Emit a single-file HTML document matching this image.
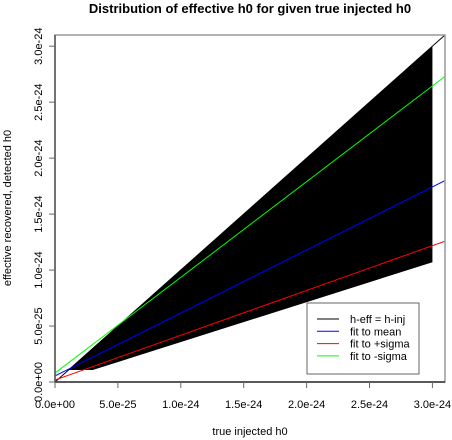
<!DOCTYPE html>
<html><head><meta charset="utf-8"><style>
body{margin:0;background:#fff;}
svg{display:block;font-family:"Liberation Sans",sans-serif;}
</style></head><body>
<svg id="c" width="452" height="440" viewBox="0 0 452 440">
<text x="250" y="13" text-anchor="middle" font-weight="bold" font-size="13">Distribution of effective h0 for given true injected h0</text>
<text x="250" y="435" text-anchor="middle" font-size="11">true injected h0</text>
<text transform="translate(11,208) rotate(-90)" text-anchor="middle" font-size="11">effective recovered, detected h0</text>
<g id="plot"></g>
</svg>
<script>
const xTicks=[0,0.5,1.0,1.5,2.0,2.5,3.0];
const xTickLabels=["0.0e+00","5.0e-25","1.0e-24","1.5e-24","2.0e-24","2.5e-24","3.0e-24"];
const yTicks=[0,0.5,1.0,1.5,2.0,2.5,3.0];
const yTickLabels=["0.0e+00","5.0e-25","1.0e-24","1.5e-24","2.0e-24","2.5e-24","3.0e-24"];
// band polygon (units 1e-24)
const bandX=[0.1,3.0,3.0,0.3,0.1];
const bandY=[0.1,3.0,1.07,0.107,0.107];
// fit lines: intercept, slope (units 1e-24)
const lineNames=["h-eff = h-inj","fit to mean","fit to +sigma","fit to -sigma"];
const lineIntercepts=[0,0.054,0.018,0.08];
const lineSlopes=[1,0.563,0.4,0.855];
const lineColors=["#000","#0000ff","#ff0000","#00ff00"];

const L=55,R=445,T=35,B=382,XMAX=3.1,YMAX=3.1;
const sx=v=>L+(v/XMAX)*(R-L);
const sy=v=>B-(v/YMAX)*(B-T);
const NS="http://www.w3.org/2000/svg";
const g=document.getElementById('plot');
function mk(t,a){const e=document.createElementNS(NS,t);for(const k in a)e.setAttribute(k,a[k]);g.appendChild(e);return e;}

const band=mk('polygon',{points:bandX.map((x,i)=>sx(x)+','+sy(bandY[i])).join(' '),fill:'#000'});



const cp=document.createElementNS(NS,'clipPath');cp.setAttribute('id','clip');
const cr=document.createElementNS(NS,'rect');cr.setAttribute('x',L);cr.setAttribute('y',T);cr.setAttribute('width',R-L);cr.setAttribute('height',B-T);
cp.appendChild(cr);g.appendChild(cp);
lineNames.forEach((n,i)=>{
  const x2=XMAX;
  const l=mk('line',{x1:sx(0),y1:sy(lineIntercepts[i]),x2:sx(x2),y2:sy(lineIntercepts[i]+lineSlopes[i]*x2),stroke:lineColors[i],'stroke-width':1,'clip-path':'url(#clip)'});
  
  
});

const box=mk('rect',{x:L,y:T,width:R-L,height:B-T,fill:'none',stroke:'#999','stroke-width':1.5});


const ax1=mk('line',{x1:L,x2:L,y1:T,y2:B,stroke:'#555','stroke-width':1.5});


const ax2=mk('line',{x1:L,x2:R,y1:B,y2:B,stroke:'#333','stroke-width':1.5});



xTicks.forEach((v,i)=>{
  const t=mk('line',{x1:sx(v),x2:sx(v),y1:B,y2:B+6,stroke:'#666'});
  
  
  const tx=mk('text',{x:sx(v),y:B+26,'text-anchor':'middle','font-size':11});
  tx.textContent=xTickLabels[i];
  
  
});
yTicks.forEach((v,i)=>{
  const t=mk('line',{x1:L-6,x2:L,y1:sy(v),y2:sy(v),stroke:'#666'});
  
  
  const tx=mk('text',{transform:`translate(${L-13},${sy(v)}) rotate(-90)`,'text-anchor':'middle','font-size':11});
  tx.textContent=yTickLabels[i];
  
  
});

const lg=mk('rect',{x:307,y:303,width:112,height:71,fill:'#fff',stroke:'#666'});


lineNames.forEach((n,i)=>{
  const y=319+i*12.3;
  const l=mk('line',{x1:317,x2:339,y1:y,y2:y,stroke:lineColors[i]});
  
  
  const t=mk('text',{x:350,y:y+4,'font-size':11});
  t.textContent=n;
  
  
});
</script>
</body></html>
